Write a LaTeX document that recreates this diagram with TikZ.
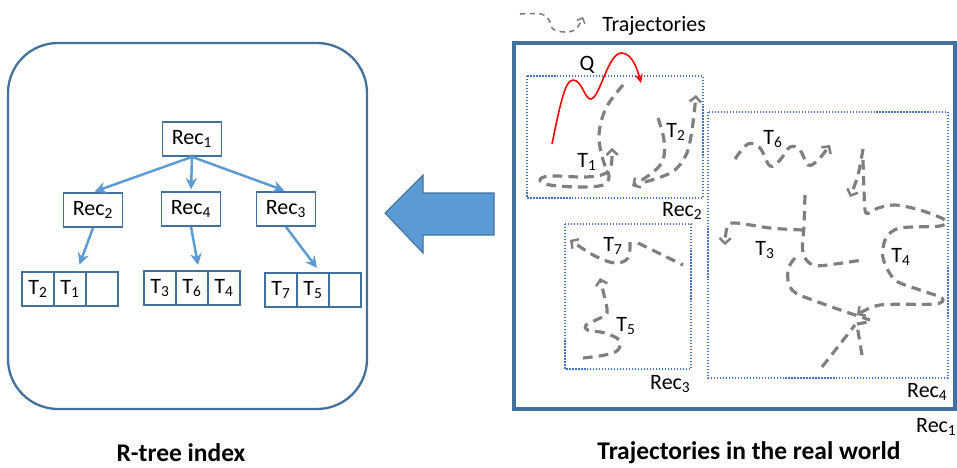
\documentclass[tikz,border=0pt]{standalone}
\usepackage{fontspec}
\setmainfont{Carlito}
\usetikzlibrary{arrows.meta}
\definecolor{frameblue}{HTML}{41719C}
\definecolor{arrowblue}{HTML}{5B9BD5}
\definecolor{dotblue}{HTML}{4472C4}
\definecolor{trajgray}{HTML}{7F7F7F}
\newcommand{\sub}[1]{\textsubscript{#1}}
\tikzset{
  treebox/.style={draw=frameblue, line width=1pt, minimum width=1.18cm, minimum height=0.68cm, inner sep=0pt, font=\fontsize{12.5}{14}\selectfont},
  cell/.style={draw=frameblue, line width=1pt, minimum width=0.64cm, minimum height=0.68cm, inner sep=0pt, font=\fontsize{12.5}{14}\selectfont},
  treearrow/.style={draw=arrowblue, line width=1.4pt, -{Stealth[length=6.5pt,width=6.5pt]}, shorten >=1pt},
  traj/.style={draw=trajgray, line width=1.8pt, dash pattern=on 5.5pt off 3.5pt},
  trajarrow/.style={traj, -{Straight Barb[length=3pt,width=6.5pt,line width=1.4pt]}},
  region/.style={draw=dotblue, line width=0.7pt, densely dotted},
  lbl/.style={font=\fontsize{12.5}{14}\selectfont, inner sep=0pt},
  title/.style={font=\fontsize{14.5}{17}\selectfont\bfseries, inner sep=0pt}
}
\begin{document}
\begin{tikzpicture}[x=0.02cm, y=-0.02cm]
\useasboundingbox (0,0) rectangle (957,467);
% left panel
\draw[frameblue, line width=1.3pt, rounded corners=1cm] (8,43) rectangle (367,409);
\node[treebox] (r1) at (192,139) {Rec\sub{1}};
\node[treebox] (r2) at (93,210) {Rec\sub{2}};
\node[treebox] (r4) at (191,209) {Rec\sub{4}};
\node[treebox] (r3) at (286,209) {Rec\sub{3}};
\node[cell] (t2) at (38,289) {T\sub{2}};
\node[cell] (t1) at (70,289) {T\sub{1}};
\node[cell] (e1) at (102,289) {};
\node[cell] (t3) at (160,288) {T\sub{3}};
\node[cell] (t6) at (192,288) {T\sub{6}};
\node[cell] (t4) at (224,288) {T\sub{4}};
\node[cell] (t7) at (281,290) {T\sub{7}};
\node[cell] (t5) at (313,290) {T\sub{5}};
\node[cell] (e2) at (345,290) {};
\draw[treearrow] (r1.south) -- (r2.north);
\draw[treearrow] (r1.south) -- (r4.north);
\draw[treearrow] (r1.south) -- (r3.north);
\draw[treearrow, shorten >=4pt] (r2.south) -- ([xshift=4]t1.north);
\draw[treearrow, shorten >=3pt] (r4.south) -- ([xshift=4]t6.north);
\draw[treearrow, shorten >=3pt] (r3.south) -- ([xshift=4]t5.north);
\node[title] (tl) at (181,453) {R-tree index};
% big arrow
\draw[fill=arrowblue, draw=frameblue, line width=0.6pt] (385,213) -- (423,175) -- (423,193) -- (494,193) -- (494,235) -- (423,235) -- (423,253) -- cycle;
% right panel
\draw[frameblue, line width=1.8pt] (514,43) rectangle (955,409);
\draw[region] (527,76) rectangle (703,198);
\draw[region] (708,112) rectangle (948,378);
\draw[region] (565,224) rectangle (691,369);
\node[lbl, anchor=east] (lr2) at (703,211) {Rec\sub{2}};
\node[lbl, anchor=east] (lr3) at (691,384) {Rec\sub{3}};
\node[lbl, anchor=east] (lr4) at (948,392) {Rec\sub{4}};
\node[lbl, anchor=east] (lr1) at (957,427) {Rec\sub{1}};
\node[title] (tr) at (749,453) {Trajectories in the real world};
% legend
\draw[trajgray, line width=0.9pt, dash pattern=on 3pt off 2.5pt, -{Straight Barb[length=2.5pt,width=5pt]}] plot[smooth, tension=0.6] coordinates {(520,14) (541,14) (549,20) (553,29) (565,32) (576,29) (583,17)};
\node[lbl, anchor=west] (lg) at (602,26) {Trajectories};
% Q
\draw[red, line width=0.9pt, -{Stealth[length=5pt,width=4.5pt]}] (552,144) .. controls (560,105) and (565,80) .. (573,80) .. controls (582,80) and (585,100) .. (591,99) .. controls (600,98) and (608,52) .. (622,53) .. controls (632,54) and (637,68) .. (641,83);
\node[lbl] (q) at (587,65) {Q};
% T1
\draw[trajarrow] plot[smooth, tension=0.6] coordinates {(623,85) (606,108) (599,135) (603,160) (609,176) (603,185) (580,187) (550,185) (540,180) (550,176) (585,177) (604,174) (611,166) (612,148)};
\node[lbl] (lt1) at (587,162) {T\sub{1}};
% T2
\draw[trajarrow] plot[smooth, tension=0.6] coordinates {(658,118) (664,140) (663,160) (652,173) (632,186)};
\draw[trajarrow] plot[smooth, tension=0.6] coordinates {(645,182) (672,172) (686,155) (692,130) (696,95)};
\node[lbl] (lt2) at (676,132) {T\sub{2}};
% T6
\draw[trajarrow] plot[smooth, tension=0.6] coordinates {(735,159) (748,144) (760,148) (770,166) (780,160) (790,147) (800,150) (808,165) (818,160) (830,145)};
\node[lbl] (lt6) at (773,139) {T\sub{6}};
% T3
\draw[traj] plot[smooth, tension=0.6] coordinates {(805,195) (804,225) (803,252) (813,265) (835,264) (862,260)};
\draw[trajarrow] plot[smooth, tension=0.6] coordinates {(803,230) (770,228) (735,223) (727,228) (725,245)};
\draw[traj] plot[smooth, tension=0.6] coordinates {(795,258) (788,270) (792,290) (818,302) (870,320)};
\draw[traj] (822,367) -- (855,325);
\draw[traj] (862,355) -- (857,325);
\draw[traj] (857,324) -- (868,322);
\node[lbl] (lt3) at (765,250) {T\sub{3}};
% T4
\draw[trajarrow] plot[smooth, tension=0.6] coordinates {(863,149) (858,175) (850,197)};
\draw[trajarrow] plot[smooth, tension=0.5] coordinates {(863,160) (864,190) (866,213) (878,208) (895,205) (920,210) (945,220) (940,226) (900,228) (886,238) (883,258) (895,280) (920,290) (942,298) (935,304) (880,305) (857,315)};
\node[lbl] (lt4) at (901,257) {T\sub{4}};
% T7
\draw[trajarrow] plot[smooth, tension=0.6] coordinates {(630,242) (628,258) (615,263) (595,256) (570,240)};
\draw[traj] (638,243) -- (683,265);
\node[lbl] (lt7) at (613,246) {T\sub{7}};
% T5
\draw[trajarrow] plot[smooth, tension=0.6] coordinates {(583,358) (605,355) (618,350) (619,340) (605,333) (588,330) (586,325) (598,319) (607,313) (604,295) (600,278)};
\node[lbl] (lt5) at (626,326) {T\sub{5}};
\end{tikzpicture}
\end{document}
